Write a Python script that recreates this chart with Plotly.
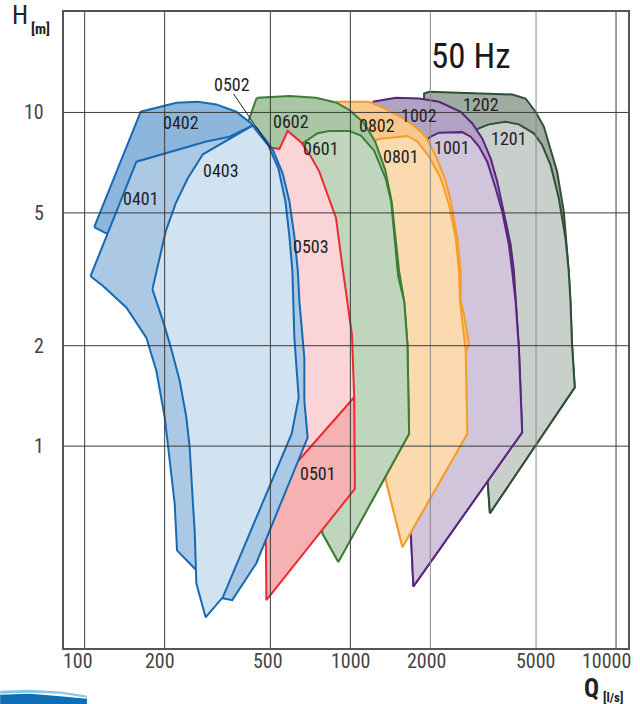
import numpy as np
import plotly.graph_objects as go

# ---------------- data: pump operating ranges, Q [l/s], H [m] ----------------
Q_1202 = [1895, 1895, 1979, 4066, 4564, 4977, 5347, 5666, 5999, 6357, 6637, 6735, 6829, 6991, 3352, 3286]
H_1202 = [11.01, 11.40, 11.53, 11.32, 11.01, 10.05, 9.07, 7.81, 6.65, 5.05, 3.34, 2.72, 2.02, 1.50, 0.630, 0.789]
Q_1201 = [2919, 3048, 3323, 3840, 4307, 4905, 5269, 5666, 6088, 6451, 6637, 6735, 6829, 6991, 3352, 3286]
H_1201 = [8.76, 8.96, 9.21, 9.38, 9.21, 8.66, 7.99, 6.97, 5.54, 4.20, 3.34, 2.72, 2.02, 1.50, 0.630, 0.789]
Q_1002 = [1212, 1483, 1814, 2157, 2602, 2877, 3136, 3373, 3571, 3784, 4010, 4126, 4187, 4307, 4432, 1727, 1689]
H_1002 = [10.76, 11.06, 11.01, 10.76, 10.05, 9.27, 8.36, 7.29, 6.21, 5.05, 4.02, 3.34, 2.72, 1.97, 1.10, 0.380, 0.547]
Q_1001 = [1895, 2008, 2157, 2638, 2837, 3048, 3275, 3522, 3728, 3951, 4066, 4187, 4307, 4432, 1727, 1689]
H_1001 = [8.18, 8.46, 8.70, 8.73, 8.46, 7.90, 7.12, 5.93, 5.05, 4.02, 3.34, 2.72, 1.97, 1.10, 0.380, 0.547]
Q_0802 = [883, 1178, 1341, 1566, 1784, 1928, 2111, 2282, 2392, 2526, 2602, 2602, 2678, 2796, 2717, 2755, 1571, 1361]
H_0802 = [10.76, 10.76, 10.28, 9.64, 8.97, 8.43, 7.32, 6.25, 5.41, 4.20, 3.34, 2.72, 2.48, 2.02, 1.93, 1.09, 0.499, 0.789]
Q_0801 = [1198, 1248, 1321, 1640, 1788, 1979, 2189, 2351, 2492, 2564, 2586, 2655, 2717, 2755, 1571, 1361]
H_0801 = [7.90, 8.27, 8.36, 8.50, 8.18, 7.37, 6.35, 5.29, 4.20, 3.34, 2.72, 2.21, 1.93, 1.09, 0.499, 0.789]
Q_0602 = [410, 442, 448, 590, 743, 883, 991, 1118, 1240, 1352, 1430, 1483, 1526, 1594, 1640, 1664, 901, 786]
H_0602 = [9.25, 10.97, 11.06, 11.21, 11.06, 10.71, 10.17, 9.35, 8.18, 6.74, 5.41, 4.20, 3.34, 2.72, 2.02, 1.09, 0.450, 0.547]
Q_0601 = [616, 661, 753, 833, 991, 1096, 1229, 1361, 1424, 1474, 1513, 1594, 1640, 1664, 901, 786, 590]
H_0601 = [7.63, 8.08, 8.66, 8.80, 8.80, 8.52, 7.68, 6.30, 5.41, 4.11, 3.23, 2.72, 2.02, 1.09, 0.450, 0.547, 2.72]
Q_0503 = [479, 503, 541, 581, 652, 711, 764, 821, 883, 935, 976, 1014, 1034, 479]
H_0503 = [7.63, 7.84, 7.78, 8.80, 8.14, 7.37, 6.65, 5.67, 4.83, 3.42, 2.72, 2.16, 1.40, 0.697]
Q_0501 = [1034, 1040, 483, 479]
H_0501 = [1.40, 0.745, 0.3455, 0.697]
Q_0402 = [108.6, 162.6, 221.4, 266.9, 312.9, 371.9, 423.5, 491.7, 536.1, 569.6, 589.7, 119.8]
H_0402 = [4.53, 10.05, 10.69, 10.76, 10.57, 10.05, 9.27, 7.95, 6.79, 5.41, 4.25, 4.35]
Q_0401 = [105.2, 156.6, 286.9, 351.0, 428.2, 443.3, 509.0, 556.5, 589.7, 615.6, 634.5, 642.8, 671.2, 671.2,
          690.6, 496.0, 442.2, 359.3, 331.3, 259.4, 222.6, 218.2, 208.9, 200.1, 186.2, 170.8, 143.7, 117.3]
H_0401 = [3.23, 7.12, 8.18, 8.46, 9.13, 9.00, 7.79, 6.56, 5.41, 4.25, 3.34, 2.72, 1.838, 1.37,
          1.06, 0.559, 0.445, 0.3455, 0.350, 0.430, 0.487, 0.672, 0.926, 1.22, 1.68, 2.11, 2.60, 3.02]
Q_0403 = [179.9, 201.8, 220.1, 244.1, 278.6, 428.2, 491.7, 536.1, 569.6, 589.7, 605.1, 615.6, 638.9, 601.5,
          331.3, 285.2, 263.2, 259.4, 255.6, 248.4, 241.4, 227.8, 212.0, 197.2]
H_0403 = [2.95, 4.40, 5.34, 6.34, 7.49, 9.13, 7.95, 6.79, 5.41, 4.25, 3.34, 2.11, 1.396, 1.09,
          0.353, 0.307, 0.388, 0.559, 0.672, 0.992, 1.22, 1.57, 1.95, 2.37]

# label texts and their anchor points (Q, H)
label_text = ["0402", "0401", "0403", "0502", "0602", "0601", "0503", "0501",
              "0802", "0801", "1002", "1001", "1202", "1201"]
label_Q = [231.1, 163.6, 324.8, 357.1, 598.4, 775.5, 711.2, 753.0, 1265, 1549, 1814, 2420, 3094, 3951]
label_H = [9.35, 5.51, 6.68, 12.10, 9.38, 7.78, 3.97, 0.826, 9.17, 7.37, 9.78, 7.84, 10.59, 8.36]

# leader line for 0502
leader_Q = [363.3, 504.7]
leader_H = [11.37, 7.74]

x_ticks = [100, 200, 500, 1000, 2000, 5000, 10000]
x_tick_text = ["100", "200", "500", "1000", "2000", "5000", "10000"]
y_ticks = [1, 2, 5, 10]
y_tick_text = ["1", "2", "5", "10"]

# ---------------- styles ----------------
BLUE, RED, GREEN, ORANGE, PURPLE, GREY = "#1769b3", "#ec2a2f", "#3e7d36", "#f59d29", "#58267c", "#2f4f37"
polys = [
    (Q_1202, H_1202, "#a0aba1", GREY),
    (Q_1201, H_1201, "#c9d0cc", GREY),
    (Q_1002, H_1002, "#b2a3c5", PURPLE),
    (Q_1001, H_1001, "#d0c5da", PURPLE),
    (Q_0802, H_0802, "#f9c88e", ORANGE),
    (Q_0801, H_0801, "#fbdab0", ORANGE),
    (Q_0602, H_0602, "#a9c7a5", GREEN),
    (Q_0601, H_0601, "#bfd6bc", GREEN),
    (Q_0503, H_0503, "#fad4d6", RED),
    (Q_0501, H_0501, "#f6b1b3", RED),
    (Q_0402, H_0402, "#8db6dc", BLUE),
    (Q_0401, H_0401, "#abc9e5", BLUE),
    (Q_0403, H_0403, "#d1e2f1", BLUE),
]

NARROW = "Liberation Sans Narrow, Arial Narrow, Roboto Condensed, Roboto, sans-serif"

fig = go.Figure()
for q, h, fc, lc in polys:
    fig.add_trace(go.Scatter(x=q + [q[0]], y=h + [h[0]], mode="lines", fill="toself",
                             fillcolor=fc, line=dict(color=lc, width=2), hoverinfo="skip",
                             showlegend=False))

# gridlines on top of fills
XR = [1.9222, 4.045]
YR = [-0.6049, 1.301]
grid_col_x = ["#3c3c3c", "#3c3c3c", "#3c3c3c", "#3c3c3c", "#8a8a8a", "#8a8a8a", "#3c3c3c"]
for v, c in zip(x_ticks, grid_col_x):
    fig.add_trace(go.Scatter(x=[v, v], y=[10 ** YR[0], 10 ** YR[1]], mode="lines",
                             line=dict(color=c, width=1), hoverinfo="skip", showlegend=False))
for v in y_ticks:
    fig.add_trace(go.Scatter(x=[10 ** XR[0], 10 ** XR[1]], y=[v, v], mode="lines",
                             line=dict(color="#3c3c3c", width=1), hoverinfo="skip", showlegend=False))

fig.add_trace(go.Scatter(x=leader_Q, y=leader_H, mode="lines", line=dict(color="#222", width=1),
                         hoverinfo="skip", showlegend=False))

ann = []
for t, q, h in zip(label_text, label_Q, label_H):
    ann.append(dict(x=np.log10(q), y=np.log10(h), xref="x", yref="y", text=t, showarrow=False,
                    font=dict(family=NARROW, size=18, color="#222")))
ann.append(dict(x=np.log10(2844), y=np.log10(14.67), xref="x", yref="y", text="50 Hz", showarrow=False,
                font=dict(family=NARROW, size=35, color="#1a1a1a")))

x_shift = [-7, -5, -2, 1, -3, 0, -10]
for v, t, s in zip(x_ticks, x_tick_text, x_shift):
    ann.append(dict(x=np.log10(v), y=0, xref="x", yref="paper", text=t, showarrow=False,
                    xanchor="center", yanchor="middle", xshift=s, yshift=-12.5,
                    font=dict(family=NARROW, size=20, color="#444")))
for v, t in zip(y_ticks, y_tick_text):
    ann.append(dict(x=0, y=np.log10(v), xref="paper", yref="y", text=t, showarrow=False,
                    xanchor="right", yanchor="middle", xshift=-18,
                    font=dict(family=NARROW, size=20, color="#444")))

ann.append(dict(x=-0.0787, y=0.9945, xref="paper", yref="paper", text="H", showarrow=False,
                xanchor="center", yanchor="middle", font=dict(family=NARROW, size=26, color="#222")))
ann.append(dict(x=-0.0410, y=0.9734, xref="paper", yref="paper", text="<b>[m]</b>", showarrow=False,
                xanchor="center", yanchor="middle", font=dict(family=NARROW, size=15, color="#222")))
ann.append(dict(x=0.9346, y=-0.0643, xref="paper", yref="paper", text="<b>Q</b>", showarrow=False,
                xanchor="center", yanchor="middle", font=dict(family=NARROW, size=25, color="#222")))
ann.append(dict(x=0.9726, y=-0.0772, xref="paper", yref="paper", text="<b>[l/s]</b>", showarrow=False,
                xanchor="center", yanchor="middle", font=dict(family=NARROW, size=13, color="#222")))

shapes = [
    dict(type="path", xref="paper", yref="paper", layer="above",
         path="M -0.1132,-0.0674 L -0.0601,-0.0658 L -0.0071,-0.0682 L 0.0407,-0.0745 "
              "L 0.0407,-0.0784 L -0.0071,-0.0721 L -0.0601,-0.0705 L -0.1132,-0.0721 Z",
         fillcolor="#86c8ec", line=dict(width=0)),
    dict(type="path", xref="paper", yref="paper", layer="above",
         path="M -0.1132,-0.0737 L -0.0601,-0.0721 L -0.0071,-0.0760 L 0.0407,-0.0799 "
              "L 0.0407,-0.0890 L -0.1132,-0.0890 Z",
         fillcolor="#0d6eb5", line=dict(width=0)),
]

fig.update_layout(
    width=640, height=704,
    margin=dict(l=64, r=10, t=10, b=56),
    paper_bgcolor="white", plot_bgcolor="white",
    showlegend=False,
    annotations=ann, shapes=shapes,
    xaxis=dict(type="log", range=XR, showgrid=False, showticklabels=False, ticks="",
               showline=True, mirror=True, linecolor="#555", linewidth=1.5, zeroline=False),
    yaxis=dict(type="log", range=YR, showgrid=False, showticklabels=False, ticks="",
               showline=True, mirror=True, linecolor="#555", linewidth=1.5, zeroline=False),
)

fig.write_html("out.html", config={"displayModeBar": False},
               post_script="document.body.style.margin='0px';")
